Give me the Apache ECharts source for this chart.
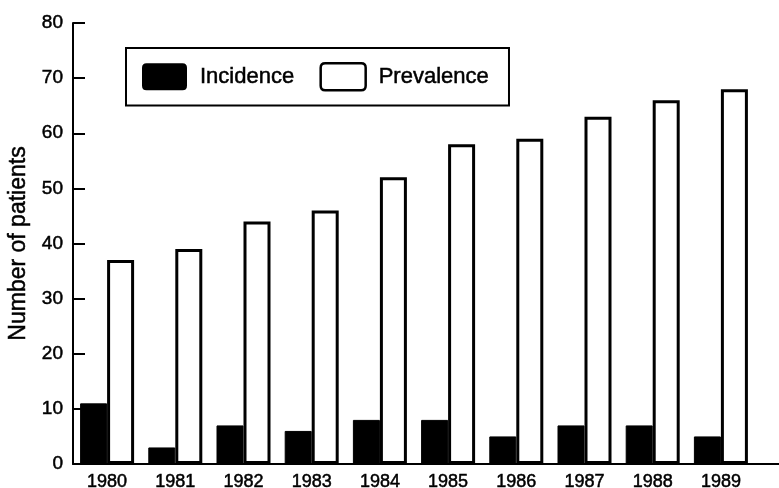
<!DOCTYPE html>
<html>
<head>
<meta charset="utf-8">
<script src="https://cdn.jsdelivr.net/npm/echarts@6/dist/echarts.min.js"></script>
<style>
html,body{margin:0;padding:0;background:#fff;}
#chart{width:779px;height:488px;}
</style>
</head>
<body>
<div id="chart"></div>
<script>
const years = ['1980','1981','1982','1983','1984','1985','1986','1987','1988','1989'];
const incidence = [11, 3, 7, 6, 8, 8, 5, 7, 7, 5];
const prevalence = [37, 39, 44, 46, 52, 58, 59, 63, 66, 68];
const yTicks = {min: 0, max: 80, interval: 10};

const FONT = '"Liberation Sans", Arial, Helvetica, sans-serif';
const txt = (size) => ({fontFamily: FONT, fontSize: size, color: '#000', textBorderColor: '#000', textBorderWidth: 0.5});
const swatch = 'path://M1,0 L9,0 Q10,0 10,1 L10,5 Q10,6 9,6 L1,6 Q0,6 0,5 L0,1 Q0,0 1,0 Z';
const chart = echarts.init(document.getElementById('chart'));
chart.setOption({
  animation: false,
  backgroundColor: '#fff',
  textStyle: {fontFamily: FONT, color: '#000'},
  grid: {left: 73, right: 24, top: 23, bottom: 24, containLabel: false, outerBoundsMode: 'none'},
  legend: {
    left: 126, top: 48,
    orient: 'horizontal',
    padding: [14, 20, 14, 16],
    borderColor: '#000', borderWidth: 2,
    itemWidth: 51, itemHeight: 27,
    itemGap: 25,
    textStyle: Object.assign(txt(22), {padding: [0, 0, 0, 5]}),
    data: [
      {name: 'Incidence', icon: swatch, itemStyle: {color: '#000', borderColor: '#000', borderWidth: 0}},
      {name: 'Prevalence', icon: swatch, itemStyle: {color: '#fff', borderColor: '#000', borderWidth: 2.5}}
    ]
  },
  xAxis: {
    type: 'category',
    data: years,
    axisLine: {lineStyle: {color: '#000', width: 2}},
    axisTick: {show: false},
    axisLabel: Object.assign(txt(18), {margin: 9})
  },
  yAxis: {
    type: 'value',
    min: yTicks.min, max: yTicks.max, interval: yTicks.interval,
    name: 'Number of patients',
    nameLocation: 'middle',
    nameGap: 36,
    nameTextStyle: txt(23),
    axisLine: {show: true, lineStyle: {color: '#000', width: 2}},
    axisTick: {show: true, inside: true, length: 12, lineStyle: {color: '#000', width: 2}},
    axisLabel: Object.assign(txt(19), {margin: 10}),
    splitLine: {show: false}
  },
  series: [
    {
      name: 'Incidence', type: 'bar', data: incidence,
      barWidth: 27, barGap: '0%',
      itemStyle: {color: '#000', borderColor: '#000', borderWidth: 1}
    },
    {
      name: 'Prevalence', type: 'bar', data: prevalence,
      barWidth: 27,
      itemStyle: {color: '#fff', borderColor: '#000', borderWidth: 3}
    }
  ],
  graphic: [
    {type: 'line', shape: {x1: 754, y1: 464, x2: 779, y2: 464}, style: {stroke: '#000', lineWidth: 2}}
  ]
});
</script>
</body>
</html>
